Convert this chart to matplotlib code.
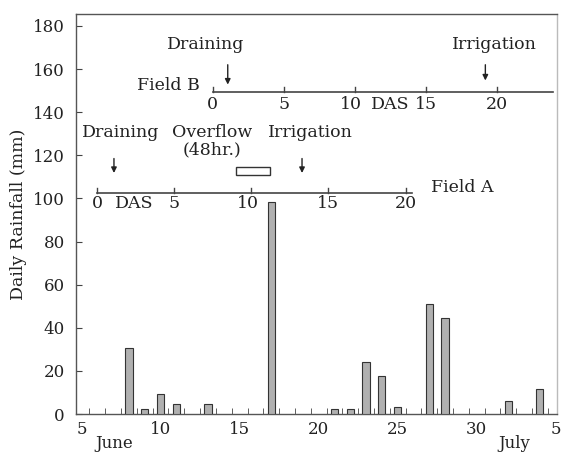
import numpy as np
import matplotlib
matplotlib.use('Agg')
import matplotlib.pyplot as plt
from matplotlib.patches import Rectangle

plt.rcParams['font.family'] = 'DejaVu Serif'

# daily rainfall, days counted from June 1 (31 = July 1)
days = [8, 9, 10, 11, 13, 17, 21, 22, 23, 24, 25, 27, 28, 32, 34]
rain = [30.5, 2.3, 9.3, 4.6, 4.6, 98.5, 2.3, 2.3, 24.3, 17.8, 3.2, 50.9, 44.4, 6.2, 11.5]
xtick_pos = [5, 10, 15, 20, 25, 30, 35]
xtick_lab = ['5', '10', '15', '20', '25', '30', '5']

# DAS timelines (start day on main axis, days per DAS)
fieldA_start, fieldA_scale, fieldA_end = 6.0, 0.975, 20.4
fieldB_start, fieldB_scale, fieldB_end = 13.3, 0.9, 23.9
das_ticks = [0, 5, 10, 15, 20]

fs = 12.5
fig = plt.figure(figsize=(5.62, 4.54), dpi=100)
ax = fig.add_axes([0.135, 0.088, 0.856, 0.881])

ax.bar(days, rain, width=0.45, color='#b0b0b0', edgecolor='#333333', linewidth=0.8, zorder=3)

ax.set_xlim(4.64, 35.08)
ax.set_ylim(0, 185.5)
ax.set_xticks(xtick_pos)
ax.set_xticklabels(xtick_lab, fontsize=12, color='#222222')
ax.set_xticks(np.arange(5.5, 35, 1), minor=True)
ax.tick_params(axis='x', which='major', length=0, pad=5)
ax.tick_params(axis='x', which='minor', direction='in', length=4, color='#444444')
ax.set_yticks(np.arange(0, 181, 20))
ax.tick_params(axis='y', direction='in', length=4, labelsize=12, labelcolor='#222222', color='#444444', pad=8)
for s in ax.spines.values():
    s.set_color('#555555')
    s.set_linewidth(1.0)
ax.spines['right'].set_color('#bbbbbb')

ax.set_ylabel('Daily Rainfall (mm)', fontsize=fs, color='#222222', labelpad=4)
ax.text(7.1, -13.8, 'June', fontsize=12, ha='center', va='center', color='#222222', clip_on=False)
ax.text(32.4, -13.8, 'July', fontsize=12, ha='center', va='center', color='#222222', clip_on=False)

tcol = '#222222'
lcol = '#444444'
arrow = dict(arrowstyle='-|>', color='#222222', lw=1.0, mutation_scale=8, shrinkA=0, shrinkB=0)

# Field A timeline
yA = 102.5
xa = lambda d: fieldA_start + d * fieldA_scale
ax.plot([xa(0), xa(fieldA_end)], [yA, yA], color=lcol, lw=1.2)
for d in das_ticks:
    ax.plot([xa(d), xa(d)], [yA, yA + 2.5], color=lcol, lw=1.0)
    ax.text(xa(d) - (0.25 if d == 10 else 0), yA - 5, str(d), fontsize=fs, ha='center', va='center', color=tcol)
ax.text(xa(2.4), yA - 5, 'DAS', fontsize=fs, ha='center', va='center', color=tcol)
ax.text(27.1, 105.3, 'Field A', fontsize=fs, ha='left', va='center', color=tcol)
ax.text(7.45, 130.8, 'Draining', fontsize=fs, ha='center', va='center', color=tcol)
ax.annotate('', xy=(7.05, 111.8), xytext=(7.05, 118.5), arrowprops=arrow)
ax.text(13.25, 130.8, 'Overflow', fontsize=fs, ha='center', va='center', color=tcol)
ax.text(13.25, 122.4, '(48hr.)', fontsize=fs, ha='center', va='center', color=tcol)
ax.add_patch(Rectangle((14.8, 110.9), 2.1, 3.7, fill=False, edgecolor='#333333', lw=1.0))
ax.text(19.5, 130.8, 'Irrigation', fontsize=fs, ha='center', va='center', color=tcol)
ax.annotate('', xy=(18.95, 111.8), xytext=(18.95, 118.5), arrowprops=arrow)

# Field B timeline
yB = 149.4
xb = lambda d: fieldB_start + d * fieldB_scale
ax.plot([xb(0), xb(fieldB_end)], [yB, yB], color=lcol, lw=1.2)
for d in das_ticks:
    ax.plot([xb(d), xb(d)], [yB, yB + 2.5], color=lcol, lw=1.0)
    ax.text(xb(d) - (0.25 if d == 10 else 0), yB - 6, str(d), fontsize=fs, ha='center', va='center', color=tcol)
ax.text(xb(12.5), yB - 6, 'DAS', fontsize=fs, ha='center', va='center', color=tcol)
ax.text(12.5, 152.6, 'Field B', fontsize=fs, ha='right', va='center', color=tcol)
ax.text(12.85, 171.2, 'Draining', fontsize=fs, ha='center', va='center', color=tcol)
ax.annotate('', xy=(14.25, 152.8), xytext=(14.25, 162.0), arrowprops=arrow)
ax.text(31.15, 171.2, 'Irrigation', fontsize=fs, ha='center', va='center', color=tcol)
ax.annotate('', xy=(30.55, 154.7), xytext=(30.55, 162.0), arrowprops=arrow)

fig.savefig('out.png', dpi=100)
